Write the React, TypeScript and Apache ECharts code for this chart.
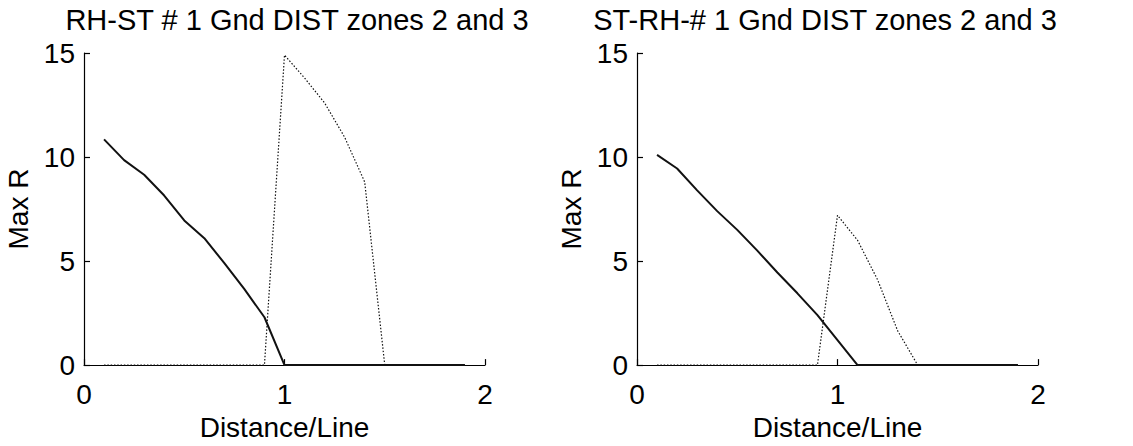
import React, { useEffect, useRef } from "react";
import * as echarts from "echarts";

const distances = [0.1, 0.2, 0.3, 0.4, 0.5, 0.6, 0.7, 0.8, 0.9, 1.0, 1.1, 1.2, 1.3, 1.4, 1.5, 1.6, 1.7, 1.8, 1.9];
const leftSolid = [10.85, 9.85, 9.15, 8.15, 6.95, 6.1, 4.9, 3.65, 2.3, 0, 0, 0, 0, 0, 0, 0, 0, 0, 0];
const leftDotted = [0, 0, 0, 0, 0, 0, 0, 0, 0, 14.9, 13.8, 12.6, 10.95, 8.8, 0, 0, 0, 0, 0];
const rightSolid = [10.1, 9.45, 8.4, 7.4, 6.5, 5.5, 4.45, 3.45, 2.4, 1.2, 0, 0, 0, 0, 0, 0, 0, 0, 0];
const rightDotted = [0, 0, 0, 0, 0, 0, 0, 0, 0, 7.2, 6.0, 4.1, 1.65, 0, 0, 0, 0, 0, 0];
const titles = ["RH-ST # 1 Gnd DIST zones 2 and 3", "ST-RH-# 1 Gnd DIST zones 2 and 3"];
const xTicks = [0, 1, 2];
const yTicks = [0, 5, 10, 15];

const FONT = "'Liberation Sans', Arial, sans-serif";

const pairs = (vals: number[]) => distances.map((d, i) => [d, vals[i]]);

export default function App() {
  const ref = useRef<HTMLDivElement>(null);
  useEffect(() => {
    if (!ref.current) return;
    const chart = echarts.init(ref.current, undefined, { renderer: "svg" });
    const grids = [
      { left: 84, top: 53, width: 401, height: 315 },
      { left: 637, top: 53, width: 401, height: 315 },
    ];
    const axisCommon = {
      axisLine: { show: true, lineStyle: { color: "#000", width: 1.2 } },
      axisTick: { show: true, inside: true, length: 6, lineStyle: { color: "#000", width: 1.2 } },
      splitLine: { show: false },
    };
    const xAxes = grids.map((_, i) => ({
      type: "value",
      gridIndex: i,
      min: xTicks[0],
      max: xTicks[xTicks.length - 1],
      interval: 1,
      ...axisCommon,
      axisLabel: { color: "#000", fontSize: 28, fontFamily: FONT, margin: 15 },
      name: "Distance/Line",
      nameLocation: "middle",
      nameGap: 47,
      nameTextStyle: { color: "#000", fontSize: 28, fontFamily: FONT },
    }));
    const yAxes = grids.map((_, i) => ({
      type: "value",
      gridIndex: i,
      min: yTicks[0],
      max: yTicks[yTicks.length - 1],
      interval: 5,
      ...axisCommon,
      axisLabel: { color: "#000", fontSize: 28, fontFamily: FONT, margin: 9 },
      name: "Max R",
      nameLocation: "middle",
      nameRotate: 90,
      nameGap: 52,
      nameTextStyle: { color: "#000", fontSize: 28, fontFamily: FONT },
    }));
    const solid = { color: "#111", width: 2, type: "solid" };
    const dotted = { color: "#111", width: 1.2, type: [1.5, 1.8] };
    const mk = (data: number[], idx: number, ls: any, name: string) => ({
      type: "line",
      name,
      xAxisIndex: idx,
      yAxisIndex: idx,
      data: pairs(data),
      showSymbol: false,
      symbol: "none",
      lineStyle: ls,
      z: ls === solid ? 3 : 2,
    });
    const titleStyle = { color: "#000", fontSize: 29, fontWeight: "normal", fontFamily: FONT };
    chart.setOption({
      animation: false,
      backgroundColor: "#fff",
      title: [
        { text: titles[0], left: 292, top: 0, textAlign: "center", textStyle: titleStyle },
        { text: titles[1], left: 820, top: 0, textAlign: "center", textStyle: titleStyle },
      ],
      grid: grids,
      xAxis: xAxes,
      yAxis: yAxes,
      series: [
        mk(leftDotted, 0, dotted, "Zone 3"),
        mk(leftSolid, 0, solid, "Zone 2"),
        mk(rightDotted, 1, dotted, "Zone 3"),
        mk(rightSolid, 1, solid, "Zone 2"),
      ],
    });
    return () => chart.dispose();
  }, []);
  return (
    <div
      ref={ref}
      style={{ position: "fixed", left: 0, top: 0, width: 1133, height: 446, background: "#fff" }}
    />
  );
}
